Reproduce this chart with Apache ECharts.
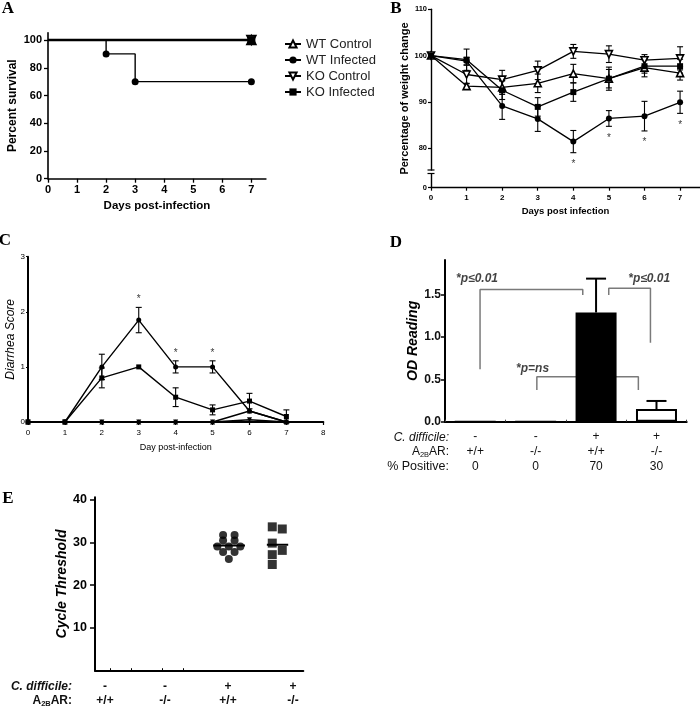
<!DOCTYPE html>
<html><head><meta charset="utf-8">
<script src="https://cdn.jsdelivr.net/npm/echarts@6/dist/echarts.min.js"></script>
<style>html,body{margin:0;padding:0;background:#fff}#c{width:700px;height:708px}</style>
</head><body><div id="c"></div>
<script>
// ---------- Panel A: survival ----------
const survSeriesNames = ['WT Control', 'WT Infected', 'KO Control', 'KO Infected'];
const survDaysWTInf = [0, 2, 3, 7];
const survWTInfected = [100, 90, 70, 70];
const survDaysCtl = [0, 7];
const survWTControl = [100, 100];
const survKOControl = [100, 100];
const survKOInfected = [100, 100];
const survTickY = [0, 20, 40, 60, 80, 100];
const survTickX = [0, 1, 2, 3, 4, 5, 6, 7];

// ---------- Panel B: weight ----------
const weightDays = [0, 1, 2, 3, 4, 5, 6, 7];
const wWTControl = [100, 93.4, 93.1, 94.0, 96.1, 95.0, 97.4, 96.2];
const wWTControlErr = [0, 0.6, 1.5, 2.0, 2.0, 2.0, 2.0, 1.5];
const wWTInfected = [100, 98.8, 89.1, 86.3, 81.4, 86.4, 86.9, 89.9];
const wWTInfectedErr = [0, 0.8, 2.9, 2.7, 2.4, 1.7, 3.2, 2.4];
const wKOControl = [100, 95.9, 94.8, 96.8, 100.9, 100.3, 99.0, 99.4];
const wKOControlErr = [0, 2.0, 2.0, 2.0, 1.5, 1.8, 1.2, 2.5];
const wKOInfected = [100, 99.1, 92.5, 88.9, 92.1, 95.0, 97.7, 97.7];
const wKOInfectedErr = [0, 2.3, 2.0, 2.0, 2.0, 2.5, 1.5, 1.5];
const wStarDays = [4, 5, 6, 7];
const weightTickY = [0, 80, 90, 100, 110];

// ---------- Panel C: diarrhea ----------
const diaDays = [0, 1, 2, 3, 4, 5, 6, 7];
const diaWTInfected = [0, 0, 1.0, 1.85, 1.0, 1.0, 0.2, 0];
const diaWTInfectedErr = [0, 0, 0.23, 0.23, 0.11, 0.11, 0, 0];
const diaKOInfected = [0, 0, 0.8, 1.0, 0.45, 0.22, 0.38, 0.1];
const diaKOInfectedErr = [0, 0, 0.18, 0, 0.17, 0.09, 0.14, 0.12];
const diaWTControl = [0, 0, 0, 0, 0, 0, 0.2, 0];
const diaKOControl = [0, 0, 0, 0, 0, 0, 0.04, 0];
const diaStarDays = [3, 4, 5];

// ---------- Panel D: OD ----------
const odCdiff = ['-', '-', '+', '+'];
const odGenotype = ['+/+', '-/-', '+/+', '-/-'];
const odPositive = ['0', '0', '70', '30'];
const odValues = [0, 0, 1.29, 0.15];
const odErr = [0, 0, 0.40, 0.095];
const odTicks = [0, 0.5, 1.0, 1.5];
const odSigText = ['*p\u22640.01', '*p\u22640.01', '*p=ns'];

// ---------- Panel E: cycle threshold ----------
const ctGroups = ['-  +/+', '-  -/-', '+  +/+', '+  -/-'];
const ctWT = [31.7, 31.7, 30.4, 30.4, 29.0, 29.0, 29.0, 27.7, 27.7, 26.1];
const ctKO = [33.6, 33.1, 29.8, 28.1, 27.1, 24.8];
const ctTicks = [10, 20, 30, 40];

// ================== layout / style ==================
const FF = '"Liberation Sans", Arial, Helvetica, sans-serif';
const BLK = '#000';
const grids = [
  { left: 48, top: 32.7, width: 217.9, height: 146 },
  { left: 431, top: 9.3, width: 269, height: 178.4 },
  { left: 28, top: 256.7, width: 295.3, height: 165.3 },
  { left: 445, top: 260, width: 241.7, height: 161.7 },
  { left: 95, top: 497.3, width: 208.3, height: 173.4 }
];
const wMin = 71.43; // broken-axis bottom, shown as 0

function lineAx(w){ return { show: true, onZero: false, lineStyle: { color: BLK, width: w } }; }
function tickAx(len, w, vals){ const t = { show: true, length: len, lineStyle: { color: BLK, width: w } }; if (vals) t.customValues = vals; return t; }

const triUp = 'triangle';
const triDown = 'path://M0,0L20,0L10,18Z';

const xAxis = [
  { gridIndex: 0, type: 'value', min: 0, max: 7.5, axisLine: lineAx(1.6), axisTick: tickAx(4, 1.3, survTickX), splitLine: { show: false },
    axisLabel: { customValues: survTickX, margin: 6, fontSize: 11, fontWeight: 'bold', color: BLK, fontFamily: FF },
    name: 'Days post-infection', nameLocation: 'middle', nameGap: 21, nameTextStyle: { fontSize: 11.5, fontWeight: 'bold', color: BLK, fontFamily: FF } },
  { gridIndex: 1, type: 'value', min: 0, max: 7.56, axisLine: lineAx(1.4), axisTick: tickAx(3, 1.2, weightDays), splitLine: { show: false },
    axisLabel: { customValues: weightDays, margin: 6, fontSize: 8, fontWeight: 'bold', color: BLK, fontFamily: FF },
    name: 'Days post infection', nameLocation: 'middle', nameGap: 18.5, nameTextStyle: { fontSize: 9.5, fontWeight: 'bold', color: BLK, fontFamily: FF } },
  { gridIndex: 2, type: 'value', min: 0, max: 8, interval: 1, axisLine: lineAx(2), axisTick: tickAx(3, 1.2), splitLine: { show: false },
    axisLabel: { margin: 7, fontSize: 8, color: BLK, fontFamily: FF },
    name: 'Day post-infection', nameLocation: 'middle', nameGap: 21.5, nameTextStyle: { fontSize: 9, color: BLK, fontFamily: FF } },
  { gridIndex: 3, type: 'category', data: odGenotype.map((g, i) => i), axisLine: lineAx(2), axisTick: { show: true, length: 2, inside: true, lineStyle: { color: '#444', width: 1 } }, splitLine: { show: false },
    axisLabel: { margin: 8, fontSize: 12, lineHeight: 14.7, color: '#111', fontFamily: FF,
      formatter: (v, i) => odCdiff[i] + '\n' + odGenotype[i] + '\n' + odPositive[i] } },
  { gridIndex: 3, type: 'value', min: -0.5, max: 3.5, show: false },
  { gridIndex: 4, type: 'value', min: 0, max: 4, axisLine: lineAx(2), splitLine: { show: false },
    axisTick: { show: true, inside: true, length: 2.5, customValues: [0.29, 0.69, 1.29, 1.69], lineStyle: { color: BLK, width: 1 } },
    axisLabel: { show: false } }
];

const yAxis = [
  { gridIndex: 0, type: 'value', min: 0, max: 105.3, axisLine: lineAx(1.6), axisTick: tickAx(4, 1.3, survTickY), splitLine: { show: false },
    axisLabel: { customValues: survTickY, margin: 6, fontSize: 11, fontWeight: 'bold', color: BLK, fontFamily: FF },
    name: 'Percent survival', nameLocation: 'middle', nameGap: 29, nameTextStyle: { fontSize: 12, fontWeight: 'bold', color: BLK, fontFamily: FF } },
  { gridIndex: 1, type: 'value', min: wMin, max: 110, axisLine: lineAx(1.4),
    axisTick: tickAx(3, 1.2, weightTickY.map(v => v === 0 ? wMin : v)), splitLine: { show: false },
    axisLabel: { customValues: weightTickY.map(v => v === 0 ? wMin : v), formatter: v => (v < 75 ? '0' : String(Math.round(v))),
      margin: 4, fontSize: 7.5, fontWeight: 'bold', color: BLK, fontFamily: FF },
    name: 'Percentage of weight change', nameLocation: 'middle', nameGap: 20, nameTextStyle: { fontSize: 11, fontWeight: 'bold', color: BLK, fontFamily: FF } },
  { gridIndex: 2, type: 'value', min: 0, max: 3, interval: 1, axisLine: lineAx(2), axisTick: tickAx(2, 1.2), splitLine: { show: false },
    axisLabel: { margin: 3, fontSize: 8, color: BLK, fontFamily: FF },
    name: 'Diarrhea Score', nameLocation: 'middle', nameGap: 11, nameTextStyle: { fontSize: 12, fontStyle: 'italic', color: BLK, fontFamily: FF } },
  { gridIndex: 3, type: 'value', min: 0, max: 1.91, axisLine: lineAx(2), axisTick: tickAx(4, 1.5, odTicks), splitLine: { show: false },
    axisLabel: { customValues: odTicks, formatter: v => v.toFixed(1), margin: 4, fontSize: 12, fontWeight: 'bold', color: '#111', fontFamily: FF },
    name: 'OD Reading', nameLocation: 'middle', nameGap: 24, nameTextStyle: { fontSize: 14, fontWeight: 'bold', fontStyle: 'italic', color: BLK, fontFamily: FF } },
  { gridIndex: 4, type: 'value', min: 0, max: 40.5, axisLine: lineAx(2), axisTick: tickAx(5, 1.5, ctTicks), splitLine: { show: false },
    axisLabel: { customValues: ctTicks, margin: 8, fontSize: 12.5, fontWeight: 'bold', color: BLK, fontFamily: FF },
    name: 'Cycle Threshold', nameLocation: 'middle', nameGap: 25, nameTextStyle: { fontSize: 14, fontWeight: 'bold', fontStyle: 'italic', color: BLK, fontFamily: FF } }
];

const openStyle = { color: '#fff', borderColor: BLK, borderWidth: 1.6 };
const fillStyle = { color: BLK, borderColor: BLK, borderWidth: 0 };

function pts(xs, ys, skipFirst){ return xs.map((x, i) => (skipFirst && i === 0) ? { value: [x, ys[i]], symbol: 'none' } : [x, ys[i]]); }

function errorBars(xi, yi, xs, ys, errs, capW, lw, upOnly){
  return { type: 'custom', xAxisIndex: xi, yAxisIndex: yi, silent: true, z: 1,
    data: xs.map((x, i) => [x, ys[i], errs[i]]),
    renderItem(params, api){
      const x = api.value(0), y = api.value(1), e = api.value(2);
      if (!e) return null;
      const top = api.coord([x, y + e]);
      const bot = api.coord(upOnly ? [x, y] : [x, y - e]);
      const st = { stroke: BLK, lineWidth: lw };
      const ch = [
        { type: 'line', shape: { x1: top[0], y1: top[1], x2: bot[0], y2: bot[1] }, style: st },
        { type: 'line', shape: { x1: top[0] - capW / 2, y1: top[1], x2: top[0] + capW / 2, y2: top[1] }, style: st }
      ];
      if (!upOnly) ch.push({ type: 'line', shape: { x1: bot[0] - capW / 2, y1: bot[1], x2: bot[0] + capW / 2, y2: bot[1] }, style: st });
      return { type: 'group', children: ch };
    } };
}
function stars(xi, yi, data, fs){
  return { type: 'scatter', xAxisIndex: xi, yAxisIndex: yi, symbolSize: 1, silent: true, z: 5,
    itemStyle: { color: 'rgba(0,0,0,0)' }, data,
    label: { show: true, position: 'inside', formatter: '*', fontSize: fs, color: BLK, fontFamily: FF, offset: [0, fs * 0.3] } };
}

const series = [];
// ---- A ----
series.push({ name: survSeriesNames[0], type: 'line', xAxisIndex: 0, yAxisIndex: 0, data: pts(survDaysCtl, survWTControl, true),
  symbol: triUp, symbolSize: 9, lineStyle: { color: BLK, width: 2.4 }, itemStyle: openStyle, z: 3 });
series.push({ name: survSeriesNames[1], type: 'line', step: 'end', xAxisIndex: 0, yAxisIndex: 0, data: pts(survDaysWTInf, survWTInfected, true),
  symbol: 'circle', symbolSize: 7, lineStyle: { color: BLK, width: 1.4 }, itemStyle: fillStyle, z: 3 });
series.push({ name: survSeriesNames[2], type: 'line', xAxisIndex: 0, yAxisIndex: 0, data: pts(survDaysCtl, survKOControl, true),
  symbol: triDown, symbolSize: 9, lineStyle: { color: BLK, width: 2 }, itemStyle: openStyle, z: 3 });
series.push({ name: survSeriesNames[3], type: 'line', xAxisIndex: 0, yAxisIndex: 0, data: pts(survDaysCtl, survKOInfected, true),
  symbol: 'rect', symbolSize: 8, lineStyle: { color: BLK, width: 2 }, itemStyle: fillStyle, z: 4 });

// ---- B ----
const bDefs = [
  [wWTControl, wWTControlErr, triUp, openStyle, 7],
  [wWTInfected, wWTInfectedErr, 'circle', fillStyle, 6],
  [wKOControl, wKOControlErr, triDown, openStyle, 7],
  [wKOInfected, wKOInfectedErr, 'rect', fillStyle, 6]
];
bDefs.forEach(([v, e, sym, st, sz]) => {
  series.push(errorBars(1, 1, weightDays, v, e, 6, 1.1, false));
  series.push({ type: 'line', xAxisIndex: 1, yAxisIndex: 1, data: pts(weightDays, v), symbol: sym, symbolSize: sz,
    lineStyle: { color: BLK, width: 1.3 }, itemStyle: st, z: 3, silent: true });
});
series.push(stars(1, 1, wStarDays.map(d => [d, wWTInfected[d] - wWTInfectedErr[d] - 1.9]), 10));

// ---- C ----
const cDefs = [
  [diaWTInfected, diaWTInfectedErr, 'circle', 5],
  [diaKOInfected, diaKOInfectedErr, 'rect', 5],
  [diaWTControl, null, 'triangle', 5],
  [diaKOControl, null, triDown, 5]
];
cDefs.forEach(([v, e, sym, sz]) => {
  if (e) series.push(errorBars(2, 2, diaDays, v, e, 6, 1.1, false));
  series.push({ type: 'line', xAxisIndex: 2, yAxisIndex: 2, data: pts(diaDays, v), symbol: sym, symbolSize: sz,
    lineStyle: { color: BLK, width: 1.4 }, itemStyle: fillStyle, z: 3, silent: true });
});
series.push(stars(2, 2, diaStarDays.map(d => [d, diaWTInfected[d] + diaWTInfectedErr[d] + 0.2]), 10));

// ---- D ----
series.push({ type: 'bar', xAxisIndex: 3, yAxisIndex: 3, data: odValues, barWidth: 41, silent: true, z: 3,
  itemStyle: { color: p => odGenotype[p.dataIndex] === '+/+' ? BLK : '#fff', borderColor: BLK, borderWidth: 2 } });
series.push(errorBars(4, 3, odValues.map((v, i) => i), odValues, odErr, 20, 2, true));
// significance brackets (annotation geometry, in axis units)
const brackets = [
  [[0.08, 0.62], [0.08, 1.563], [1.78, 1.563], [1.78, 1.496]],
  [[2.21, 1.496], [2.21, 1.575], [2.9, 1.575], [2.9, 0.933]],
  [[1.02, 0.374], [1.02, 0.531], [2.70, 0.531], [2.70, 0.374]]
];
brackets.forEach(b => series.push({ type: 'line', xAxisIndex: 4, yAxisIndex: 3, data: b, symbol: 'none', silent: true, z: 2,
  lineStyle: { color: '#7a7a7a', width: 1.5 } }));
const sigPos = [[0.03, 1.69], [2.88, 1.69], [0.95, 0.63]];
series.push({ type: 'scatter', xAxisIndex: 4, yAxisIndex: 3, symbolSize: 1, itemStyle: { color: 'rgba(0,0,0,0)' }, silent: true, z: 5,
  data: sigPos.map((p, i) => ({ value: p, name: odSigText[i] })),
  label: { show: true, position: 'inside', formatter: p => p.name, fontSize: 12, fontWeight: 'bold', fontStyle: 'italic', color: '#111', fontFamily: FF } });

// ---- E ----
// dot-plot layouts: equal values spread symmetrically in a row
function rowLayout(vals, center, spacingPx, pxX){
  const groups = {};
  vals.forEach((v, i) => { (groups[v] = groups[v] || []).push(i); });
  const out = new Array(vals.length);
  Object.values(groups).forEach(idx => {
    idx.forEach((i, k) => { out[i] = [center + (k - (idx.length - 1) / 2) * spacingPx / pxX, vals[i]]; });
  });
  return out;
}
// greedy two-column swarm for distinct values
function swarm(vals, center, diamPx, pxX, pxY, thr){
  const placed = [];
  const order = vals.map((v, i) => i).sort((a, b) => vals[b] - vals[a]);
  const out = new Array(vals.length);
  const h = diamPx / 2;
  const cands = [-h, h, 0];
  order.forEach(i => {
    const y = vals[i] * pxY;
    let best = null, bestD = -1;
    for (const c of cands) {
      const d = placed.length ? Math.min(...placed.map(p => Math.hypot(p[0] - c, p[1] - y))) : Infinity;
      if (d >= diamPx * thr) { best = c; break; }
      if (d > bestD) { bestD = d; best = c; }
    }
    placed.push([best, y]);
    out[i] = [center + best / pxX, vals[i]];
  });
  return out;
}
const pxX = grids[4].width / 4, pxY = grids[4].height / 40.5;
const mean = a => a.reduce((s, v) => s + v, 0) / a.length;
series.push({ type: 'scatter', xAxisIndex: 5, yAxisIndex: 4, symbol: 'circle', symbolSize: 8, itemStyle: { color: BLK }, silent: true, z: 3,
  data: rowLayout(ctWT, 2.57, 11.5, pxX) });
series.push({ type: 'scatter', xAxisIndex: 5, yAxisIndex: 4, symbol: 'rect', symbolSize: 9, itemStyle: { color: BLK }, silent: true, z: 3,
  data: swarm(ctKO, 3.5, 10, pxX, pxY, 0.82) });
series.push({ type: 'line', xAxisIndex: 5, yAxisIndex: 4, symbol: 'none', silent: true, z: 4, lineStyle: { color: BLK, width: 2 },
  data: [[2.27, mean(ctWT)], [2.88, mean(ctWT)]] });
series.push({ type: 'line', xAxisIndex: 5, yAxisIndex: 4, symbol: 'none', silent: true, z: 4, lineStyle: { color: BLK, width: 2 },
  data: [[3.3, mean(ctKO)], [3.71, mean(ctKO)]] });

// ================== graphics: panel letters, row headers ==================
const letterFont = 'bold 17px "Liberation Serif", "Times New Roman", serif';
function letter(t, x, y){ return { type: 'text', x, y, style: { text: t, font: letterFont, fill: BLK, textAlign: 'center', textVerticalAlign: 'middle' } }; }
function txt(t, x, y, font, align, rich){ return { type: 'text', x, y, style: { text: t, font, fill: '#111', textAlign: align || 'center', textVerticalAlign: 'middle', rich } }; }
const a2bRich = (fs, bold) => ({
  a: { fontSize: fs, fontWeight: bold ? 'bold' : 'normal', fontFamily: FF, color: '#111' },
  s: { fontSize: fs * 0.62, fontWeight: bold ? 'bold' : 'normal', fontFamily: FF, color: '#111', padding: [fs * 0.5, 0, 0, 0] }
});
const eXs = [105, 165, 228, 293];
const graphic = [
  letter('A', 8, 9), letter('B', 396, 9), letter('C', 5, 241), letter('D', 396, 243), letter('E', 8, 499),
  // break mark on panel B y axis
  { type: 'rect', shape: { x: 428, y: 170.6, width: 6, height: 2.4 }, style: { fill: '#fff' }, z: 100 },
  { type: 'line', shape: { x1: 427.5, y1: 170, x2: 434.5, y2: 170 }, style: { stroke: BLK, lineWidth: 1.2 }, z: 101 },
  { type: 'line', shape: { x1: 427.5, y1: 173.5, x2: 434.5, y2: 173.5 }, style: { stroke: BLK, lineWidth: 1.2 }, z: 101 },
  // D row headers
  txt('C. difficile:', 449, 437.3, 'italic 12px ' + FF, 'right'),
  txt('{a|A}{s|2B}{a|AR:}', 449, 451.7, '12px ' + FF, 'right', a2bRich(12, false)),
  txt('% Positive:', 449, 466.7, '12.5px ' + FF, 'right'),
  // E row headers & labels
  txt('C. difficile:', 72, 686.7, 'bold italic 12px ' + FF, 'right'),
  txt('{a|A}{s|2B}{a|AR:}', 72, 700.7, 'bold 12px ' + FF, 'right', a2bRich(12, true))
];
ctGroups.forEach((g, i) => {
  const [c, gt] = g.split(/\s+/);
  graphic.push(txt(c, eXs[i], 686.7, 'bold 12px ' + FF));
  graphic.push(txt(gt, eXs[i], 700.7, 'bold 12px ' + FF));
});

const chart = echarts.init(document.getElementById('c'), null, { renderer: 'canvas' });
chart.setOption({
  animation: false,
  backgroundColor: '#fff',
  grid: grids.map(g => Object.assign({ containLabel: false }, g)),
  xAxis, yAxis, series, graphic,
  legend: { data: survSeriesNames, orient: 'vertical', left: 279, top: 32.5, itemWidth: 16, itemHeight: 9, itemGap: 3,
    textStyle: { fontSize: 13, color: '#222', fontFamily: FF }, selectedMode: false }
});
</script></body></html>
